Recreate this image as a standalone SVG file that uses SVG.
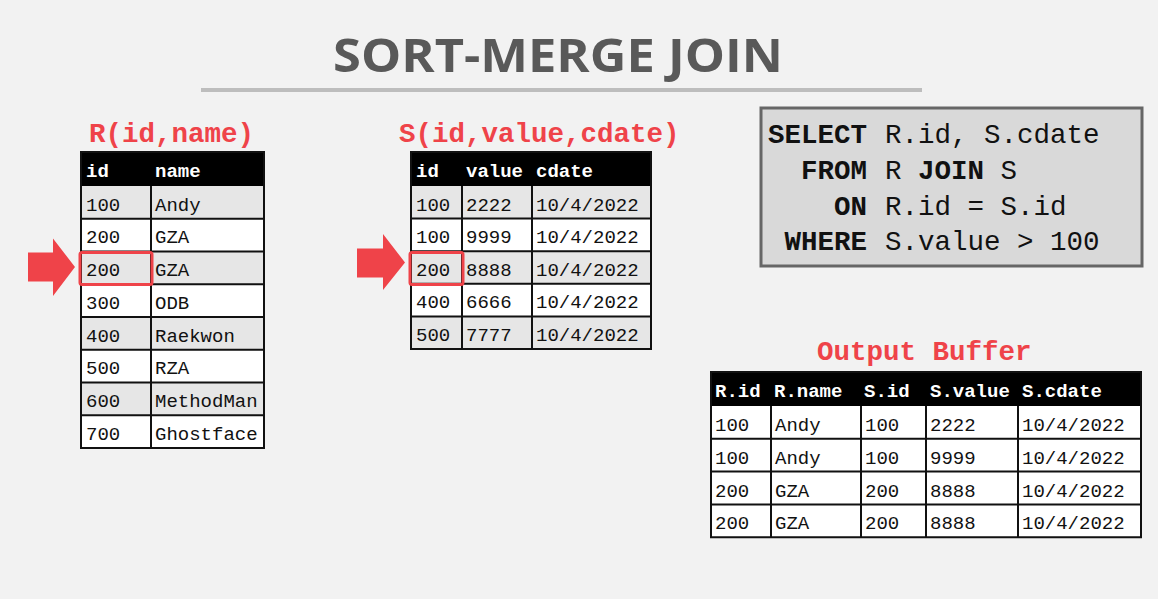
<svg xmlns="http://www.w3.org/2000/svg" width="1158" height="599" viewBox="0 0 1158 599">
<style>
.bg{fill:#f2f2f2}
.title{font-family:"Open Sans","DejaVu Sans",sans-serif;font-weight:bold;font-size:46px;fill:#595959}
.lbl{font-family:"Liberation Mono","DejaVu Sans Mono",monospace;font-weight:bold;font-size:27.5px;fill:#ef4349}
.cell{font-family:"Liberation Mono","DejaVu Sans Mono",monospace;font-size:19px;fill:#111}
.hdr{font-family:"Liberation Mono","DejaVu Sans Mono",monospace;font-weight:bold;font-size:19px;fill:#fff}
.q{font-family:"Liberation Mono","DejaVu Sans Mono",monospace;font-size:27.5px;fill:#111}
.qk{font-weight:bold}
.grid{stroke:#111;stroke-width:2;fill:none}
.g{fill:#e6e6e6}
.w{fill:#ffffff}
.hd{fill:#000}
.hl{fill:none;stroke:#ef4349;stroke-width:3}
.arrow{fill:#ef4349}
</style>
<rect class="bg" x="0" y="0" width="1158" height="599"/>
<g id="title">
<text class="title" x="558" y="72" text-anchor="middle" textLength="450" lengthAdjust="spacingAndGlyphs">SORT-MERGE JOIN</text>
<rect x="201" y="88" width="721" height="4" fill="#bdbdbd"/>
</g>

<g id="tableR">
<text class="lbl" x="89" y="142">R(id,name)</text>
<rect class="hd" x="81" y="152" width="183" height="34"/>
<rect class="g" x="81" y="186" width="183" height="32.75"/>
<rect class="w" x="81" y="218.75" width="183" height="32.75"/>
<rect class="g" x="81" y="251.5" width="183" height="32.75"/>
<rect class="w" x="81" y="284.25" width="183" height="32.75"/>
<rect class="g" x="81" y="317" width="183" height="32.75"/>
<rect class="w" x="81" y="349.75" width="183" height="32.75"/>
<rect class="g" x="81" y="382.5" width="183" height="32.75"/>
<rect class="w" x="81" y="415.25" width="183" height="32.75"/>
<path class="grid" d="M81 152V448H264V152ZM151 186V448M81 218.75H264M81 251.5H264M81 284.25H264M81 317H264M81 349.75H264M81 382.5H264M81 415.25H264"/>
<text class="hdr" x="86" y="177">id</text>
<text class="hdr" x="155" y="177">name</text>
<g class="cell">
<text x="86" y="210.5">100</text><text x="155" y="210.5">Andy</text>
<text x="86" y="243.25">200</text><text x="155" y="243.25">GZA</text>
<text x="86" y="276">200</text><text x="155" y="276">GZA</text>
<text x="86" y="308.75">300</text><text x="155" y="308.75">ODB</text>
<text x="86" y="341.5">400</text><text x="155" y="341.5">Raekwon</text>
<text x="86" y="374.25">500</text><text x="155" y="374.25">RZA</text>
<text x="86" y="407">600</text><text x="155" y="407">MethodMan</text>
<text x="86" y="439.75">700</text><text x="155" y="439.75">Ghostface</text>
</g>
<rect class="hl" x="80" y="252.5" width="72" height="32" rx="2"/>
<polygon class="arrow" points="28,252.5 53,252.5 53,238.5 75,267 53,296 53,281.5 28,281.5"/>
</g>

<g id="tableS">
<text class="lbl" x="399" y="142">S(id,value,cdate)</text>
<rect class="hd" x="411" y="152" width="240" height="34"/>
<rect class="g" x="411" y="186" width="240" height="32.6"/>
<rect class="w" x="411" y="218.6" width="240" height="32.6"/>
<rect class="g" x="411" y="251.2" width="240" height="32.6"/>
<rect class="w" x="411" y="283.8" width="240" height="32.6"/>
<rect class="g" x="411" y="316.4" width="240" height="32.6"/>
<path class="grid" d="M411 152V349H651V152ZM462 186V349M532 186V349M411 218.6H651M411 251.2H651M411 283.8H651M411 316.4H651"/>
<text class="hdr" x="416" y="177">id</text>
<text class="hdr" x="466" y="177">value</text>
<text class="hdr" x="536" y="177">cdate</text>
<g class="cell">
<text x="416" y="210.5">100</text><text x="466" y="210.5">2222</text><text x="536" y="210.5">10/4/2022</text>
<text x="416" y="243.1">100</text><text x="466" y="243.1">9999</text><text x="536" y="243.1">10/4/2022</text>
<text x="416" y="275.7">200</text><text x="466" y="275.7">8888</text><text x="536" y="275.7">10/4/2022</text>
<text x="416" y="308.3">400</text><text x="466" y="308.3">6666</text><text x="536" y="308.3">10/4/2022</text>
<text x="416" y="340.9">500</text><text x="466" y="340.9">7777</text><text x="536" y="340.9">10/4/2022</text>
</g>
<rect class="hl" x="410" y="252.5" width="53" height="32" rx="2"/>
<polygon class="arrow" points="357,248.5 383,248.5 383,234 405,262.5 383,290 383,277.5 357,277.5"/>
</g>

<g id="query">
<rect x="761" y="108" width="381" height="158" fill="#d9d9d9" stroke="#666" stroke-width="3"/>
<g class="q">
<text x="867" y="143" text-anchor="end" class="qk">SELECT</text><text x="885" y="143">R.id, S.cdate</text>
<text x="867" y="179" text-anchor="end" class="qk">FROM</text><text x="885" y="179">R <tspan class="qk">JOIN</tspan> S</text>
<text x="867" y="214.5" text-anchor="end" class="qk">ON</text><text x="885" y="214.5">R.id = S.id</text>
<text x="867" y="250" text-anchor="end" class="qk">WHERE</text><text x="885" y="250">S.value &gt; 100</text>
</g>
</g>

<g id="output">
<text class="lbl" x="817" y="360">Output Buffer</text>
<rect class="hd" x="711" y="372" width="430" height="34"/>
<rect class="w" x="711" y="406" width="430" height="131.2"/>
<path class="grid" d="M711 372V537.2H1141V372ZM771 406V537.2M861 406V537.2M926 406V537.2M1018 406V537.2M711 438.8H1141M711 471.6H1141M711 504.4H1141"/>
<text class="hdr" x="715" y="397">R.id</text>
<text class="hdr" x="774" y="397">R.name</text>
<text class="hdr" x="864" y="397">S.id</text>
<text class="hdr" x="930" y="397">S.value</text>
<text class="hdr" x="1022" y="397">S.cdate</text>
<g class="cell">
<text x="715" y="431">100</text><text x="775" y="431">Andy</text><text x="865" y="431">100</text><text x="930" y="431">2222</text><text x="1022" y="431">10/4/2022</text>
<text x="715" y="463.8">100</text><text x="775" y="463.8">Andy</text><text x="865" y="463.8">100</text><text x="930" y="463.8">9999</text><text x="1022" y="463.8">10/4/2022</text>
<text x="715" y="496.6">200</text><text x="775" y="496.6">GZA</text><text x="865" y="496.6">200</text><text x="930" y="496.6">8888</text><text x="1022" y="496.6">10/4/2022</text>
<text x="715" y="529.4">200</text><text x="775" y="529.4">GZA</text><text x="865" y="529.4">200</text><text x="930" y="529.4">8888</text><text x="1022" y="529.4">10/4/2022</text>
</g>
</g>
</svg>
